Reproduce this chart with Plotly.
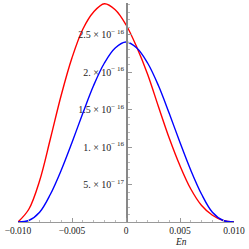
import plotly.graph_objects as go

x_vals = [-0.010, -0.009, -0.008, -0.007, -0.006, -0.005, -0.004, -0.003, -0.002, -0.001,
          0.000, 0.001, 0.002, 0.003, 0.004, 0.005, 0.006, 0.007, 0.008, 0.009, 0.010]
red_vals = [0.0, 0.17e-16, 0.55e-16, 1.11e-16, 1.69e-16, 2.19e-16, 2.57e-16, 2.80e-16, 2.91e-16, 2.83e-16,
            2.63e-16, 2.33e-16, 1.97e-16, 1.54e-16, 1.12e-16, 0.75e-16, 0.44e-16, 0.22e-16, 0.09e-16, 0.02e-16, 0.0]
blue_vals = [0.0, 0.02e-16, 0.13e-16, 0.37e-16, 0.69e-16, 1.06e-16, 1.45e-16, 1.82e-16, 2.12e-16, 2.32e-16,
             2.40e-16, 2.32e-16, 2.12e-16, 1.82e-16, 1.45e-16, 1.06e-16, 0.69e-16, 0.37e-16, 0.13e-16, 0.02e-16, 0.0]

x_ticks = [-0.01, -0.005, 0, 0.005, 0.01]
x_ticktext = ["\u22120.010", "\u22120.005", "0", "0.005", "0.010"]
y_ticks = [5e-17, 1e-16, 1.5e-16, 2e-16, 2.5e-16]
y_ticktext = ["5. \u00d7 10<sup>\u2212 17</sup>", "1. \u00d7 10<sup>\u2212 16</sup>",
              "1.5 \u00d7 10<sup>\u2212 16</sup>", "2. \u00d7 10<sup>\u2212 16</sup>",
              "2.5 \u00d7 10<sup>\u2212 16</sup>"]

xfont = dict(family="Liberation Serif, DejaVu Serif, serif", size=9.5, color="#222222")
yfont = dict(family="Liberation Serif, DejaVu Serif, serif", size=10, color="#222222")

fig = go.Figure()
fig.add_trace(go.Scatter(x=x_vals, y=red_vals, mode="lines",
                         line=dict(color="#ff0000", width=1.4, shape="spline", smoothing=1.0),
                         hoverinfo="skip"))
fig.add_trace(go.Scatter(x=x_vals, y=blue_vals, mode="lines",
                         line=dict(color="#0000ff", width=1.4, shape="spline", smoothing=1.0),
                         hoverinfo="skip"))

fig.update_layout(
    width=249, height=249,
    margin=dict(l=18, r=15, t=3, b=27),
    paper_bgcolor="white", plot_bgcolor="white",
    showlegend=False,
    font=xfont,
    xaxis=dict(range=[-0.01, 0.01], tickvals=x_ticks, ticktext=x_ticktext,
               showgrid=False, zeroline=False, showline=True, linecolor="#999999", linewidth=1,
               ticks="inside", ticklen=4, tickcolor="#999999", tickwidth=1,
               minor=dict(dtick=0.001, ticks="inside", ticklen=2, tickcolor="#bbbbbb", showgrid=False),
               tickfont=xfont, fixedrange=True),
    yaxis=dict(range=[0, 2.92e-16], tickvals=y_ticks, ticktext=y_ticktext,
               anchor="free", position=0.5,
               showgrid=False, zeroline=False, showline=True, linecolor="#888888", linewidth=1.5,
               ticks="inside", ticklen=4, tickcolor="#999999", tickwidth=1,
               minor=dict(dtick=1e-17, ticks="inside", ticklen=2, tickcolor="#bbbbbb", showgrid=False),
               tickfont=yfont, fixedrange=True),
)

fig.add_annotation(x=0.00505, xref="x", y=-0.09, yref="paper", text="<i>En</i>",
                   showarrow=False, font=xfont, xanchor="center", yanchor="middle")

fig.write_html("out.html", config={"displayModeBar": False, "staticPlot": True},
               post_script="document.body.style.margin='0';document.body.style.overflow='hidden';")
